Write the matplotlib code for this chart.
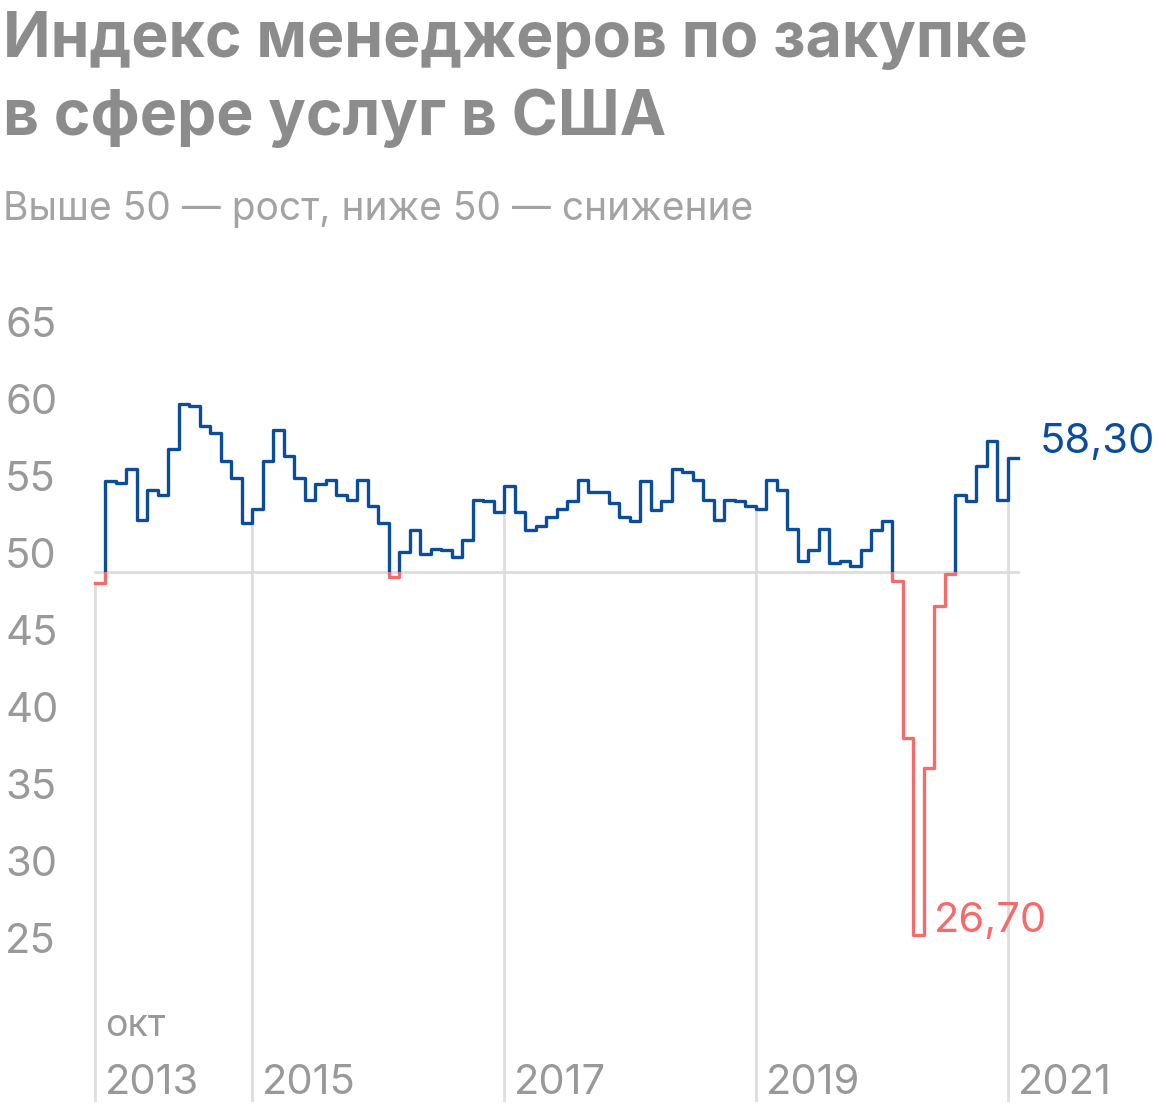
import matplotlib
matplotlib.use("Agg")
import matplotlib.pyplot as plt
from matplotlib.patches import Rectangle
import numpy as np

# monthly index values, Oct 2013 .. Jan 2021
values = [49.3, 55.9, 55.8, 56.7, 53.4, 55.3, 55.0, 58.0, 60.9, 60.8, 59.5, 59.0,
          57.2, 56.1, 53.2, 54.1, 57.2, 59.2, 57.5, 56.1, 54.7, 55.7, 56.0, 55.0,
          54.7, 56.0, 54.3, 53.2, 49.7, 51.3,
          52.7, 51.2, 51.5, 51.4, 51.0, 52.1, 54.7, 54.6, 53.9, 55.6, 53.9, 52.7,
          53.0, 53.6, 54.1, 54.6, 56.0, 55.2, 55.2, 54.5, 53.6, 53.3, 55.9, 54.0,
          54.6, 56.7, 56.5, 56.0,
          54.7, 53.4, 54.7, 54.6, 54.3, 54.1, 56.0, 55.3, 52.8, 50.7, 51.4, 52.8,
          50.6, 50.7, 50.4, 51.4, 52.7, 53.3, 49.4, 39.2, 26.4, 37.3, 47.8, 49.9,
          55.0, 54.6, 56.9, 58.5, 54.7, 57.4]
year_idx = [0, 15, 39, 63, 87]
year_labels = ["2013", "2015", "2017", "2019", "2021"]
y_ticks = [25, 30, 35, 40, 45, 50, 55, 60, 65]

BLUE = "#0b4d9b"
RED = "#f56b6b"
GRAY = "#999999"
GRID = "#dddddd"
FONT = "Inter"

W, H = 1160, 1120
STEP = 10.49   # px per month
UNIT = 15.4    # px per index point
X0, Y50 = 95, 572

fig = plt.figure(figsize=(W / 100, H / 100), dpi=100)
ax = fig.add_axes([0, 0, 1, 1])
ax.set_xlim(-X0 / STEP, (W - X0) / STEP)
ax.set_ylim(50 - (H - Y50) / UNIT, 50 + Y50 / UNIT)
ax.axis("off")

n = len(values)
xs = np.arange(n + 1)
ys = values + [values[-1]]
ymin = ax.get_ylim()[0]

# gridlines
ax.plot([0, n], [50, 50], color=GRID, lw=2, zorder=1)
for i, lab in zip(year_idx, year_labels):
    ax.plot([i, i], [ymin + 20 / UNIT, values[i]], color=GRID, lw=2, zorder=1)
    ax.text(i + 10 / STEP, ymin + 18 / UNIT, lab, fontsize=30, color=GRAY,
            ha="left", va="bottom", family=FONT)
ax.text(10 / STEP, ymin + 76 / UNIT, "окт", fontsize=27, color=GRAY,
        ha="left", va="bottom", family=FONT)

for t in y_ticks:
    ax.text(-90 / STEP, t + 15 / UNIT, str(t), fontsize=30, color=GRAY,
            ha="left", va="center", family=FONT)

# step line, blue above 50, red below
for col, y0, y1 in [(BLUE, 50, 100), (RED, 0, 50)]:
    ln, = ax.step(xs, ys, where="post", color=col, lw=2.4, zorder=3)
    clip = Rectangle((-20, y0), 200, y1 - y0, transform=ax.transData)
    ln.set_clip_path(clip)

ax.text(n + 22 / STEP, 58.3 + 2 / UNIT, "58,30", fontsize=30, color=BLUE,
        ha="left", va="center", family=FONT)
imin = int(np.argmin(values))
ax.text(imin + 1 + 10 / STEP, values[imin] + 14 / UNIT, "26,70", fontsize=30,
        color=RED, ha="left", va="center", family=FONT)

fig.text(0.003, 1 - 40 / H, "Индекс менеджеров по закупке", fontsize=45,
         fontweight="bold", color="#8c8c8c", ha="left", va="center", family=FONT)
fig.text(0.003, 1 - 118 / H, "в сфере услуг в США", fontsize=45,
         fontweight="bold", color="#8c8c8c", ha="left", va="center", family=FONT)
fig.text(0.003, 1 - 210 / H, "Выше 50 — рост, ниже 50 — снижение", fontsize=28,
         color="#a3a3a3", ha="left", va="center", family=FONT)

fig.savefig("out.png", dpi=100, facecolor="white")
